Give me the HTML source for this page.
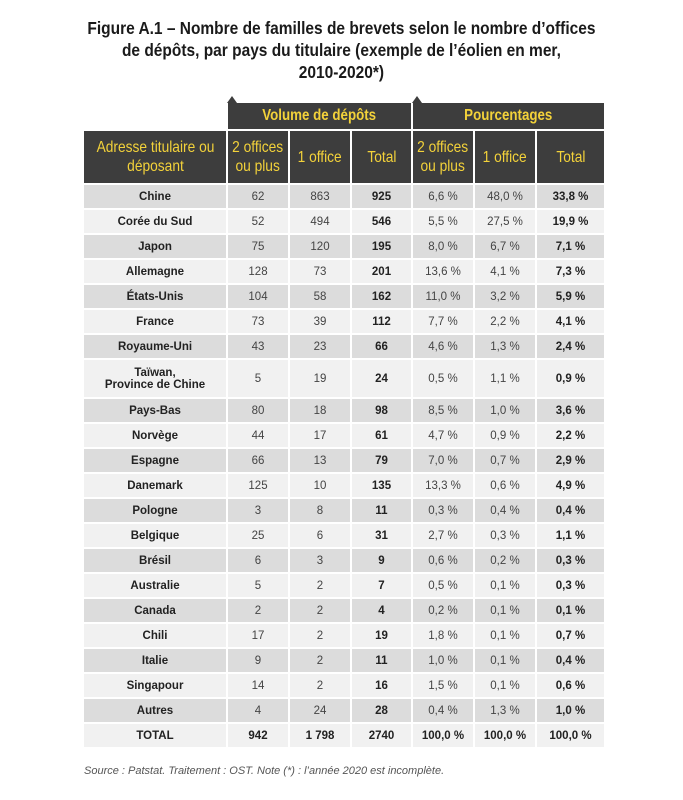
<!DOCTYPE html>
<html><head><meta charset="utf-8"><style>
body{margin:0;width:683px;height:800px;background:#fff;position:relative;font-family:"Liberation Sans",sans-serif;overflow:hidden}
.title{position:absolute;top:17px;left:0;width:683px;text-align:center;font-weight:bold;font-size:17.5px;line-height:22px;color:#1a1a1a;transform:scaleX(0.885);transform-origin:341px 0}
table{position:absolute;left:82px;top:101px;border-collapse:separate;border-spacing:2px;table-layout:fixed}
td{padding:0;text-align:center;font-size:11.5px;color:#444;height:23px}
td.l{font-weight:bold;color:#222}
td.b{font-weight:bold;color:#222}
tr.d td{background:#dcdcdc}
tr.w td{background:#f1f1f1}
.h1 td.g{background:#3d3d3d;color:#f3d23a;font-weight:bold;font-size:15.5px;height:26px;position:relative}
.h2 td{background:#3d3d3d;color:#f3d23a;font-size:16px;height:52px;line-height:19px}
.n{position:absolute;top:-7px;width:0;height:0;border-left:5px solid transparent;border-right:5px solid transparent;border-bottom:7px solid #3d3d3d;left:-1px}
.h1 td.g span,.h2 td span{display:inline-block;transform:scaleX(0.86)}
.src{position:absolute;left:84px;top:765px;font-size:11px;font-style:italic;color:#555}
</style></head><body>
<div class="title">Figure A.1 – Nombre de familles de brevets selon le nombre d’offices<br>de dépôts, par pays du titulaire (exemple de l’éolien en mer,<br>2010-2020*)</div>
<table>
<colgroup><col style="width:142px"><col style="width:60px"><col style="width:60px"><col style="width:59px"><col style="width:60px"><col style="width:60px"><col style="width:67px"></colgroup>
<tr class="h1"><td style="background:#fff"></td><td class="g" colspan="3"><div class="n"></div><span>Volume de dépôts</span></td><td class="g" colspan="3"><div class="n"></div><span>Pourcentages</span></td></tr>
<tr class="h2"><td><span>Adresse titulaire ou<br>déposant</span></td><td><span>2 offices<br>ou plus</span></td><td><span>1 office</span></td><td><span>Total</span></td><td><span>2 offices<br>ou plus</span></td><td><span>1 office</span></td><td><span>Total</span></td></tr>
<tr class="d"><td class="l">Chine</td><td>62</td><td>863</td><td class="b">925</td><td>6,6 %</td><td>48,0 %</td><td class="b">33,8 %</td></tr>
<tr class="w"><td class="l">Corée du Sud</td><td>52</td><td>494</td><td class="b">546</td><td>5,5 %</td><td>27,5 %</td><td class="b">19,9 %</td></tr>
<tr class="d"><td class="l">Japon</td><td>75</td><td>120</td><td class="b">195</td><td>8,0 %</td><td>6,7 %</td><td class="b">7,1 %</td></tr>
<tr class="w"><td class="l">Allemagne</td><td>128</td><td>73</td><td class="b">201</td><td>13,6 %</td><td>4,1 %</td><td class="b">7,3 %</td></tr>
<tr class="d"><td class="l">États-Unis</td><td>104</td><td>58</td><td class="b">162</td><td>11,0 %</td><td>3,2 %</td><td class="b">5,9 %</td></tr>
<tr class="w"><td class="l">France</td><td>73</td><td>39</td><td class="b">112</td><td>7,7 %</td><td>2,2 %</td><td class="b">4,1 %</td></tr>
<tr class="d"><td class="l">Royaume-Uni</td><td>43</td><td>23</td><td class="b">66</td><td>4,6 %</td><td>1,3 %</td><td class="b">2,4 %</td></tr>
<tr class="w"><td class="l" style="height:37px">Taïwan,<br>Province de Chine</td><td>5</td><td>19</td><td class="b">24</td><td>0,5 %</td><td>1,1 %</td><td class="b">0,9 %</td></tr>
<tr class="d"><td class="l">Pays-Bas</td><td>80</td><td>18</td><td class="b">98</td><td>8,5 %</td><td>1,0 %</td><td class="b">3,6 %</td></tr>
<tr class="w"><td class="l">Norvège</td><td>44</td><td>17</td><td class="b">61</td><td>4,7 %</td><td>0,9 %</td><td class="b">2,2 %</td></tr>
<tr class="d"><td class="l">Espagne</td><td>66</td><td>13</td><td class="b">79</td><td>7,0 %</td><td>0,7 %</td><td class="b">2,9 %</td></tr>
<tr class="w"><td class="l">Danemark</td><td>125</td><td>10</td><td class="b">135</td><td>13,3 %</td><td>0,6 %</td><td class="b">4,9 %</td></tr>
<tr class="d"><td class="l">Pologne</td><td>3</td><td>8</td><td class="b">11</td><td>0,3 %</td><td>0,4 %</td><td class="b">0,4 %</td></tr>
<tr class="w"><td class="l">Belgique</td><td>25</td><td>6</td><td class="b">31</td><td>2,7 %</td><td>0,3 %</td><td class="b">1,1 %</td></tr>
<tr class="d"><td class="l">Brésil</td><td>6</td><td>3</td><td class="b">9</td><td>0,6 %</td><td>0,2 %</td><td class="b">0,3 %</td></tr>
<tr class="w"><td class="l">Australie</td><td>5</td><td>2</td><td class="b">7</td><td>0,5 %</td><td>0,1 %</td><td class="b">0,3 %</td></tr>
<tr class="d"><td class="l">Canada</td><td>2</td><td>2</td><td class="b">4</td><td>0,2 %</td><td>0,1 %</td><td class="b">0,1 %</td></tr>
<tr class="w"><td class="l">Chili</td><td>17</td><td>2</td><td class="b">19</td><td>1,8 %</td><td>0,1 %</td><td class="b">0,7 %</td></tr>
<tr class="d"><td class="l">Italie</td><td>9</td><td>2</td><td class="b">11</td><td>1,0 %</td><td>0,1 %</td><td class="b">0,4 %</td></tr>
<tr class="w"><td class="l">Singapour</td><td>14</td><td>2</td><td class="b">16</td><td>1,5 %</td><td>0,1 %</td><td class="b">0,6 %</td></tr>
<tr class="d"><td class="l">Autres</td><td>4</td><td>24</td><td class="b">28</td><td>0,4 %</td><td>1,3 %</td><td class="b">1,0 %</td></tr>
<tr class="w"><td class="l">TOTAL</td><td class="b">942</td><td class="b">1 798</td><td class="b">2740</td><td class="b">100,0 %</td><td class="b">100,0 %</td><td class="b">100,0 %</td></tr>
</table>
<div class="src">Source : Patstat. Traitement : OST. Note (*) : l’année 2020 est incomplète.</div>
</body></html>
